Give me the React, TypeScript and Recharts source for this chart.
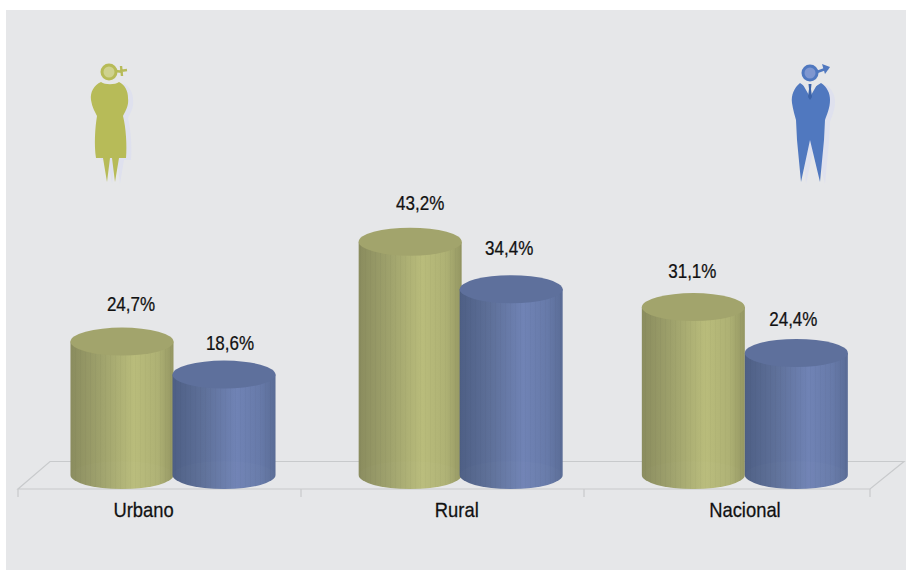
import { Bar, BarChart, LabelList, XAxis, YAxis } from "recharts";

const CATEGORIES = ["Urbano", "Rural", "Nacional"];
const WOMEN = [24.7, 43.2, 31.1];
const MEN = [18.6, 34.4, 22.6];
const WOMEN_LABELS = ["24,7%", "43,2%", "31,1%"];
const MEN_LABELS = ["18,6%", "34,4%", "24,4%"];

const data = CATEGORIES.map((name, i) => ({
    name,
    women: WOMEN[i],
    men: MEN[i],
    womenLabel: WOMEN_LABELS[i],
    menLabel: MEN_LABELS[i],
}));

const FONT = '"Liberation Sans", sans-serif';
const TEXT = "#111";
const FLOOR = "#c8cacc";
const RY = 14;

// the labels and cylinders sit a little off the band centres in the source layout
const TICK_NUDGE = [-30, -3, -1];
const WOMEN_NUDGE = [0, 2, -1];
const MEN_NUDGE = [-1, 0, -1];
const WOMEN_LABEL_DX = [9, 12, -2];
const MEN_LABEL_DX = [5, -2, -4];
const WOMEN_LABEL_DY = [-1, -2, 1];
const MEN_LABEL_DY = [5, -4, 3];

const NarrowText = ({ x, y, scale = 0.85, children }: any) => (
    <text
        transform={`translate(${x},${y}) scale(${scale},1)`}
        textAnchor="middle"
        fontFamily={FONT}
        fontSize={20}
        fill={TEXT}
        stroke={TEXT}
        strokeWidth={0.25}
    >
        {children}
    </text>
);

const Cylinder = ({ x, y, width, height, index, side, top, nudge }: any) => {
    const cx = x + nudge[index] + width / 2;
    const rx = width / 2;
    const left = cx - rx;
    const right = cx + rx;
    const bottom = y + height;
    const body = `M${left},${y} L${left},${bottom} A${rx},${RY} 0 0 0 ${right},${bottom} L${right},${y} Z`;
    return (
        <g>
            <path d={body} fill={`url(#${side})`} />
            <path d={body} fill="url(#ribs)" />
            <path
                d={`M${left},${bottom} A${rx},${RY} 0 0 1 ${right},${bottom} A${rx},${RY} 0 0 1 ${left},${bottom} Z`}
                fill="#fff"
                fillOpacity={0.015}
            />
            <ellipse cx={cx} cy={y} rx={rx} ry={RY} fill={top} />
        </g>
    );
};

const ValueLabel = ({ x, y, width, value, index, dx, dy }: any) => (
    <NarrowText x={x + width / 2 + dx[index]} y={y - 30 + dy[index]}>
        {value}
    </NarrowText>
);

const CategoryTick = ({ x, payload, index }: any) => (
    <NarrowText x={x + TICK_NUDGE[index]} y={517} scale={0.92}>
        {payload.value}
    </NarrowText>
);

const Floor = () => (
    <g stroke={FLOOR} strokeWidth={1.2} fill="none">
        <path d="M50,461.5 L904,461.5 L870,489 L18,489 Z" />
        {[18, 301, 584, 870].map((x) => (
            <line key={x} x1={x} y1={489} x2={x} y2={497} />
        ))}
    </g>
);

const WOMAN_BODY =
    "M101,82 C94,85 90,92 91,100 C92,107 95,112 97,116 C95,128 94,145 96,158 L103,158 L107,182 L110,158 L112,158 L115,182 L119,158 L126,158 C127,145 126,128 123,116 C126,110 129,105 128,98 C128,91 125,85 119,82 C115,85 105,85 101,82 Z";

const Woman = () => (
    <g>
        <path fill="#dfe1ee" transform="translate(5,2)" d={WOMAN_BODY} />
        <path fill="#b7bb58" d={WOMAN_BODY} />
        <circle cx={109} cy={72} r={8.5} fill="#b7bb58" />
        <circle cx={109} cy={72} r={5.5} fill="#cfd28f" />
        <path d="M116,71 L123,72 M121,66 L122,76 M120,71 L127,70" stroke="#b7bb58" strokeWidth={2.4} fill="none" />
    </g>
);

const MAN_BODY =
    "M800,83 C794,88 791,95 792,103 C793,110 795,116 796,120 L797,140 L801,182 L810,140 L820,182 L824,140 L825,120 C827,114 830,108 830,100 C830,93 827,87 821,83 L810,90 Z";

const Man = () => (
    <g>
        <path fill="#dfe1ee" transform="translate(5,2)" d={MAN_BODY} />
        <path fill="#5078bf" d={MAN_BODY} />
        <path fill="#e6e7e9" d="M802,83 L810,97 L818,83 L810,86 Z" />
        <path fill="#3d64a8" d="M808.5,84 L811.5,84 L811,89 L812,97 L810,100 L808,97 L809,89 Z" />
        <circle cx={810} cy={73} r={8.5} fill="#5078bf" />
        <circle cx={810} cy={73} r={5.5} fill="#7f97d0" />
        <path d="M817,72 L828,68" stroke="#5078bf" strokeWidth={2.6} fill="none" />
        <path d="M822,64 L830,67 L825,74 Z" fill="#5078bf" />
    </g>
);

export default function App() {
    return (
        <div style={{ position: "absolute", left: 0, top: 0, width: 906, height: 570, background: "#fff" }}>
            <div style={{ position: "absolute", left: 6, top: 10, right: 0, bottom: 0, background: "#e6e7e9" }} />
            <div style={{ position: "absolute", left: 0, top: 0 }}>
                <BarChart
                    width={906}
                    height={570}
                    data={data}
                    barGap={0}
                    barCategoryGap={0}
                    barSize={103}
                    margin={{ top: 205, right: 17, bottom: 65, left: 30.5 }}
                >
                    <defs>
                        <linearGradient id="oliveSide" x1="0" y1="0" x2="1" y2="0">
                            <stop offset="0" stopColor="#8a8c5e" />
                            <stop offset="0.3" stopColor="#9fa26c" />
                            <stop offset="0.62" stopColor="#b9bc7b" />
                            <stop offset="0.85" stopColor="#aeb174" />
                            <stop offset="1" stopColor="#949662" />
                        </linearGradient>
                        <linearGradient id="blueSide" x1="0" y1="0" x2="1" y2="0">
                            <stop offset="0" stopColor="#4e5f85" />
                            <stop offset="0.3" stopColor="#5e7099" />
                            <stop offset="0.62" stopColor="#7083b5" />
                            <stop offset="0.85" stopColor="#677aa9" />
                            <stop offset="1" stopColor="#5a6c96" />
                        </linearGradient>
                        <pattern id="ribs" width="5" height="10" patternUnits="userSpaceOnUse">
                            <rect width="1" height="10" fill="#000" fillOpacity={0.025} />
                        </pattern>
                    </defs>
                    <Floor />
                    <XAxis
                        dataKey="name"
                        height={30}
                        axisLine={false}
                        tickLine={false}
                        tick={<CategoryTick />}
                    />
                    <YAxis hide domain={[0, 50]} />
                    <Bar
                        dataKey="women"
                        isAnimationActive={false}
                        shape={(props: any) => <Cylinder {...props} side="oliveSide" top="#a2a46c" nudge={WOMEN_NUDGE} />}
                    >
                        <LabelList
                            dataKey="womenLabel"
                            content={(props: any) => <ValueLabel {...props} dx={WOMEN_LABEL_DX} dy={WOMEN_LABEL_DY} />}
                        />
                    </Bar>
                    <Bar
                        dataKey="men"
                        isAnimationActive={false}
                        shape={(props: any) => <Cylinder {...props} side="blueSide" top="#5e709c" nudge={MEN_NUDGE} />}
                    >
                        <LabelList
                            dataKey="menLabel"
                            content={(props: any) => <ValueLabel {...props} dx={MEN_LABEL_DX} dy={MEN_LABEL_DY} />}
                        />
                    </Bar>
                    <Woman />
                    <Man />
                </BarChart>
            </div>
        </div>
    );
}
